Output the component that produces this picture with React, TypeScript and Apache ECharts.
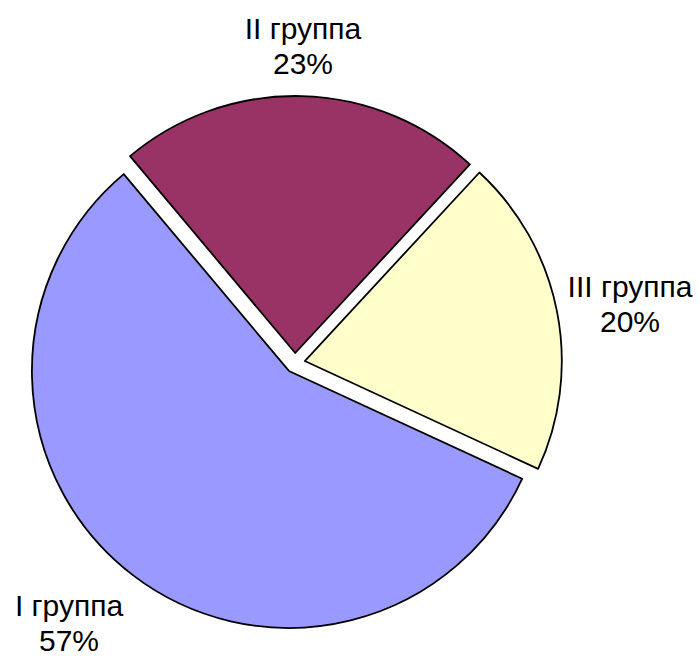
import React, { useEffect, useRef } from "react";
import * as echarts from "echarts";

const categories = ["II группа", "III группа", "I группа"];
const values = [23, 20, 57];
const colors = ["#993366", "#FFFFCC", "#9999FF"];
const labelPositions = [
  [303, 46],
  [630, 304],
  [69, 623],
];

export default function App() {
  const ref = useRef<HTMLDivElement>(null);

  useEffect(() => {
    document.body.style.margin = "0";
    if (!ref.current) return;
    const chart = echarts.init(ref.current, null, { renderer: "svg" });
    const total = values.reduce((a, b) => a + b, 0);
    const data = categories.map((name, i) => {
      const style = { color: colors[i], borderColor: "#000", borderWidth: 1.8 };
      return {
        name,
        value: values[i],
        selected: true,
        itemStyle: style,
        select: { itemStyle: style },
      };
    });
    const labels = categories.map((name, i) => ({
      type: "text",
      x: labelPositions[i][0],
      y: labelPositions[i][1],
      silent: true,
      style: {
        text: `${name}\n${Math.round((values[i] / total) * 100)}%`,
        fontFamily: "Liberation Sans, Arial, sans-serif",
        fontSize: 30,
        lineHeight: 35,
        fill: "#000",
        textAlign: "center",
        textVerticalAlign: "middle",
      },
    }));
    chart.setOption({
      animation: false,
      backgroundColor: "#ffffff",
      graphic: labels,
      series: [
        {
          type: "pie",
          center: [295, 363],
          radius: 257,
          startAngle: 130,
          clockwise: true,
          selectedMode: "multiple",
          selectedOffset: 10,
          avoidLabelOverlap: false,
          emphasis: { disabled: true },
          data,
          label: { show: false },
          labelLine: { show: false },
        },
      ],
    });
    return () => chart.dispose();
  }, []);

  return <div ref={ref} style={{ width: 700, height: 659 }} />;
}
